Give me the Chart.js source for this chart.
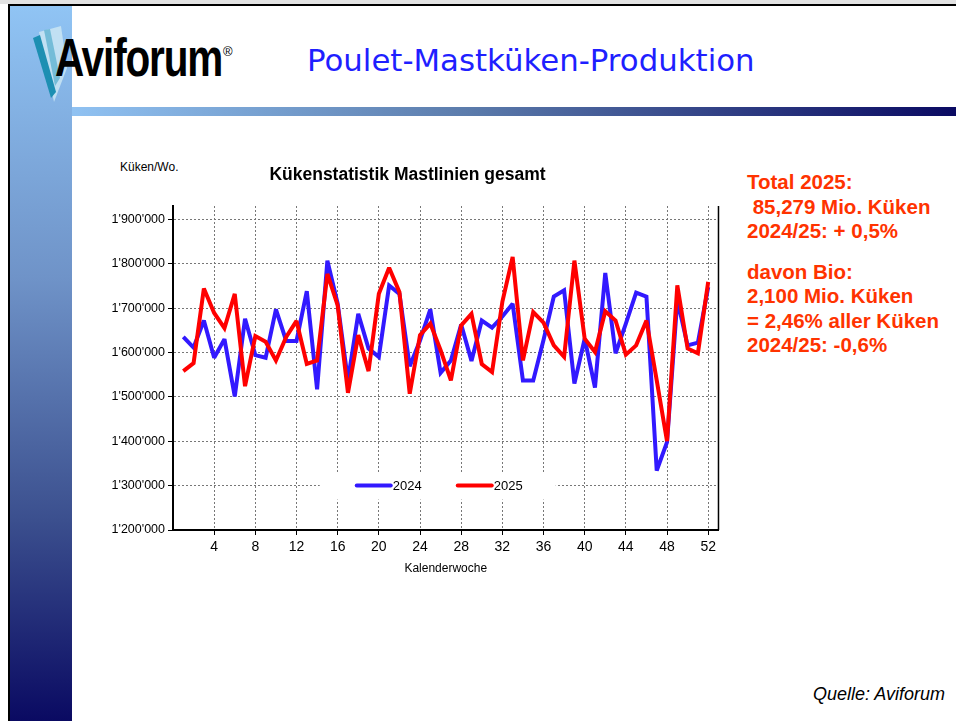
<!DOCTYPE html>
<html lang="de">
<head>
<meta charset="utf-8">
<title>Poulet-Mastküken-Produktion</title>
<script src="https://cdn.jsdelivr.net/npm/chart.js@4.4.1/dist/chart.umd.min.js"></script>
<style>
    html, body { margin: 0; padding: 0; }
    body {
        width: 956px; height: 721px; position: relative; overflow: hidden;
        background: #fff; font-family: "Liberation Sans", Arial, sans-serif;
    }
    .topline { position: absolute; left: 0; top: 0; width: 956px; height: 4px; background: #e2e2e2; }
    .frame-top { position: absolute; left: 8px; top: 4px; width: 948px; height: 2px; background: #000; }
    .frame-left { position: absolute; left: 8px; top: 4px; width: 2px; height: 717px; background: #000; }
    .sidebar {
        position: absolute; left: 10px; top: 6px; width: 62px; height: 715px;
        background: linear-gradient(to bottom, #90c4f4 0%, #6f93c8 38%, #3b4f8e 72%, #0a0a62 100%);
    }
    .band {
        position: absolute; left: 72px; top: 107px; width: 884px; height: 9px;
        background: linear-gradient(to right, #90c2f2, #5b7bab 45%, #0a0a62);
    }
    .feather { position: absolute; left: 30px; top: 26px; }
    .logo {
        position: absolute; left: 55px; top: 30px; margin: 0;
        font: bold 54px/1 "Liberation Sans", Arial, sans-serif; letter-spacing: -1.5px;
        color: #000; transform: scaleX(0.75); transform-origin: left top;
    }
    .logo-mark { position: absolute; left: 223px; top: 44px; font-size: 13px; color: #000; }
    .headline {
        position: absolute; left: 307px; top: 45px; margin: 0;
        font: normal 30.8px/1 "DejaVu Sans", sans-serif; color: #1f1fff;
    }
    .unit { position: absolute; left: 120px; top: 160px; font-size: 12px; color: #000; }
    .chart-box { position: absolute; left: 96px; top: 150px; width: 624px; height: 440px; }
    .facts {
        position: absolute; left: 747px; top: 170px;
        font: bold 20.5px/24.5px "Liberation Sans", Arial, sans-serif; color: #ff3300; white-space: pre;
    }
    .facts p { margin: 0; }
    .facts p + p { margin-top: 16px; }
    .source {
        position: absolute; right: 11px; top: 684px;
        font: italic 18px "Liberation Sans", Arial, sans-serif; color: #000;
    }
</style>
</head>
<body>
<div class="topline"></div>
<div class="sidebar"></div>
<div class="frame-top"></div>
<div class="frame-left"></div>
<div class="band"></div>

<svg class="feather" width="46" height="78" viewBox="0 0 46 78">
    <polygon points="9,6 31,0 37,42 24,76" fill="#c6e3f3" opacity="0.9"/>
    <polygon points="14,4 20,3 30,52 25,60" fill="#74bcd8"/>
    <polygon points="3,12 10,9 26,66 21,72" fill="#1d8fb2"/>
</svg>
<h1 class="logo">Aviforum</h1>
<div class="logo-mark">®</div>
<h2 class="headline">Poulet-Mastküken-Produktion</h2>

<div class="unit">Küken/Wo.</div>
<div class="chart-box"><canvas id="chickChart"></canvas></div>

<div class="facts"><p>Total 2025:
 85,279 Mio. Küken
2024/25: + 0,5%</p><p>davon Bio:
2,100 Mio. Küken
= 2,46% aller Küken
2024/25: -0,6%</p></div>

<div class="source">Quelle: Aviforum</div>

<script>
// Kalenderwochen und Küken pro Woche
const weeks = [1, 2, 3, 4, 5, 6, 7, 8, 9, 10, 11, 12, 13, 14, 15, 16, 17, 18, 19, 20, 21, 22, 23, 24, 25, 26,
    27, 28, 29, 30, 31, 32, 33, 34, 35, 36, 37, 38, 39, 40, 41, 42, 43, 44, 45, 46, 47, 48, 49, 50, 51, 52];

const chicks2024 = [1635000, 1611000, 1672000, 1588000, 1630000, 1501000, 1676000, 1594000, 1588000, 1697000,
    1626000, 1626000, 1738000, 1517000, 1807000, 1710000, 1537000, 1687000, 1609000, 1590000,
    1751000, 1732000, 1569000, 1627000, 1697000, 1554000, 1582000, 1663000, 1581000, 1672000,
    1656000, 1681000, 1710000, 1537000, 1537000, 1628000, 1726000, 1740000, 1530000, 1631000,
    1521000, 1779000, 1598000, 1665000, 1735000, 1726000, 1334000, 1398000, 1718000, 1616000,
    1622000, 1747000];

const chicks2025 = [1558000, 1576000, 1744000, 1689000, 1655000, 1732000, 1524000, 1637000, 1624000, 1582000,
    1635000, 1671000, 1574000, 1582000, 1777000, 1706000, 1509000, 1639000, 1558000, 1732000,
    1791000, 1736000, 1507000, 1639000, 1665000, 1605000, 1537000, 1661000, 1687000, 1574000,
    1556000, 1714000, 1815000, 1582000, 1691000, 1667000, 1616000, 1590000, 1807000, 1631000,
    1601000, 1693000, 1672000, 1595000, 1616000, 1672000, 1537000, 1400000, 1751000, 1609000,
    1598000, 1759000];

const xTicks = [4, 8, 12, 16, 20, 24, 28, 32, 36, 40, 44, 48, 52];
const yTicks = [1200000, 1300000, 1400000, 1500000, 1600000, 1700000, 1800000, 1900000];
const legendLevel = 1300000;

const FONT = '"Liberation Sans", Arial, sans-serif';

(() => {
    document.addEventListener('DOMContentLoaded', () => {
        initChickChart();
    });

    // 1900000 -> 1'900'000
    function swissNumber(v) {
        return String(v).replace(/\B(?=(\d{3})+(?!\d))/g, "'");
    }

    // Legende mit weissem Hintergrund im Diagramm
    const inlineLegend = {
        id: 'inlineLegend',
        beforeDatasetsDraw(chart) {
            const { ctx, chartArea, scales } = chart;
            const y = scales.y.getPixelForValue(legendLevel);
            const cx = (chartArea.left + chartArea.right) / 2 - 8;
            ctx.save();
            ctx.fillStyle = '#fff';
            ctx.fillRect(cx - 118, y - 13, 236, 27);
            ctx.font = '13px ' + FONT;
            ctx.textBaseline = 'middle';
            chart.data.datasets.forEach((ds, i) => {
                const x0 = cx - 81 + i * 101;
                ctx.strokeStyle = ds.borderColor;
                ctx.lineWidth = 4;
                ctx.lineCap = 'round';
                ctx.beginPath();
                ctx.moveTo(x0, y);
                ctx.lineTo(x0 + 34, y);
                ctx.stroke();
                ctx.fillStyle = '#000';
                ctx.fillText(ds.label, x0 + 36, y + 1);
            });
            ctx.restore();
            // kürzere Spitzen an den Knicken
            ctx.miterLimit = 2.5;
        }
    };

    // rechter Rahmen der Zeichenfläche
    const plotFrame = {
        id: 'plotFrame',
        afterDraw(chart) {
            const { ctx, chartArea } = chart;
            ctx.save();
            ctx.strokeStyle = '#000';
            ctx.lineWidth = 1.5;
            ctx.beginPath();
            ctx.moveTo(chartArea.right, chartArea.top);
            ctx.lineTo(chartArea.right, chartArea.bottom);
            ctx.stroke();
            ctx.restore();
        }
    };

    function initChickChart() {
        const canvas = document.getElementById('chickChart');
        if (!canvas || typeof Chart === 'undefined') return;

        Chart.defaults.font.family = FONT;
        Chart.defaults.color = '#000';

        const gridOpts = { color: '#777', lineWidth: 1, tickLength: 5, tickColor: '#000', tickWidth: 1 };
        const borderOpts = { color: '#000', width: 2, dash: [2, 2] };

        new Chart(canvas.getContext('2d'), {
            type: 'line',
            data: {
                datasets: [{
                    label: '2024',
                    data: weeks.map((w, i) => ({ x: w, y: chicks2024[i] })),
                    borderColor: '#3219ff',
                    borderWidth: 4,
                    pointRadius: 0,
                    tension: 0,
                    order: 1
                }, {
                    label: '2025',
                    data: weeks.map((w, i) => ({ x: w, y: chicks2025[i] })),
                    borderColor: '#ff0000',
                    borderWidth: 4,
                    pointRadius: 0,
                    tension: 0,
                    order: 0
                }]
            },
            options: {
                responsive: true,
                maintainAspectRatio: false,
                animation: false,
                layout: { padding: { top: 0, right: 1, bottom: 0, left: 0 } },
                plugins: {
                    legend: { display: false },
                    tooltip: { enabled: false },
                    title: {
                        display: true,
                        text: 'Kükenstatistik Mastlinien gesamt',
                        color: '#000',
                        font: { size: 17.5, weight: 'bold' },
                        padding: { top: 15, bottom: 20 }
                    }
                },
                scales: {
                    x: {
                        type: 'linear',
                        min: 0,
                        max: 53,
                        afterBuildTicks: s => { s.ticks = xTicks.map(v => ({ value: v })); },
                        afterFit: s => { s.height = 60; },
                        grid: gridOpts,
                        border: borderOpts,
                        ticks: { font: { size: 14 }, padding: 4, maxRotation: 0, autoSkip: false },
                        title: {
                            display: true,
                            text: 'Kalenderwoche',
                            font: { size: 12 },
                            padding: { top: 0, bottom: 14 }
                        }
                    },
                    y: {
                        min: 1200000,
                        max: 1930000,
                        afterBuildTicks: s => { s.ticks = yTicks.map(v => ({ value: v })); },
                        afterFit: s => { s.width = 77; },
                        grid: gridOpts,
                        border: borderOpts,
                        ticks: { font: { size: 12.5 }, padding: 3, callback: v => swissNumber(v) }
                    }
                }
            },
            plugins: [inlineLegend, plotFrame]
        });
    }
})();
</script>
</body>
</html>
